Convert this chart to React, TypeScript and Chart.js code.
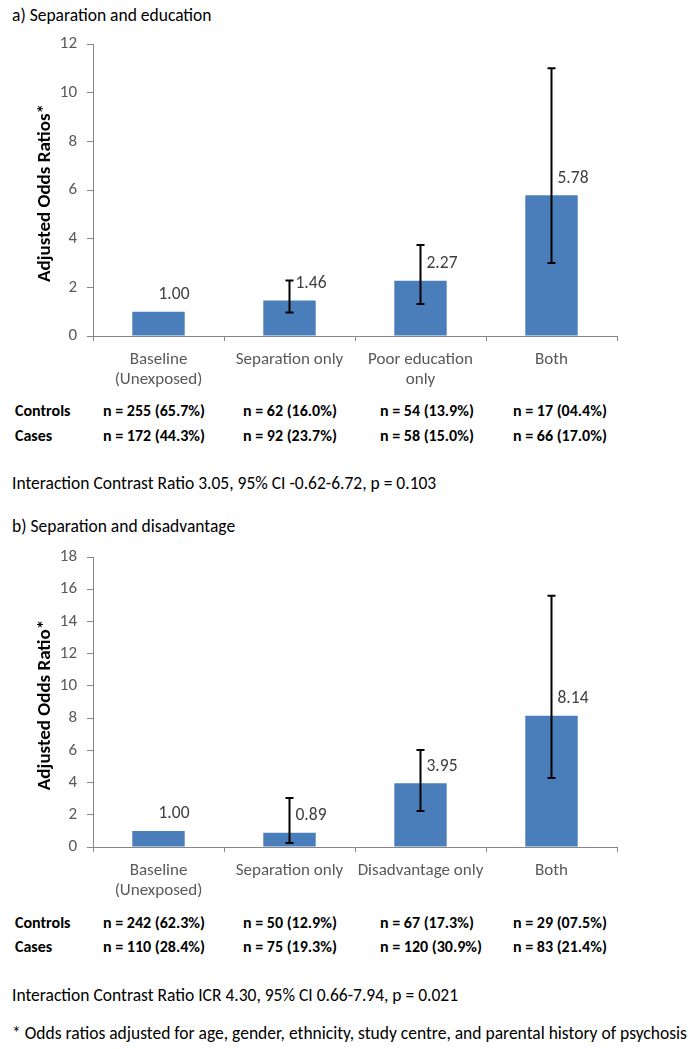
import React, { useEffect, useRef } from 'react';
import { Chart, registerables } from 'chart.js';

Chart.register(...registerables);

const FONT = 'Carlito, Calibri, Lato, "Open Sans", sans-serif';

// ---- Panel a: Separation and education ----
const categoriesA: (string | string[])[] = [['Baseline', '(Unexposed)'], 'Separation only', ['Poor education', 'only'], 'Both'];
const oddsA = [1.0, 1.46, 2.27, 5.78];
const ciLowA: (number | null)[] = [null, 0.97, 1.31, 3.0];
const ciHighA: (number | null)[] = [null, 2.28, 3.74, 11.0];
const yMaxA = 12;
const controlsA = ['n = 255 (65.7%)', 'n = 62 (16.0%)', 'n = 54 (13.9%)', 'n = 17 (04.4%)'];
const casesA = ['n = 172 (44.3%)', 'n = 92 (23.7%)', 'n = 58 (15.0%)', 'n = 66 (17.0%)'];

// ---- Panel b: Separation and disadvantage ----
const categoriesB: (string | string[])[] = [['Baseline', '(Unexposed)'], 'Separation only', 'Disadvantage only', 'Both'];
const oddsB = [1.0, 0.89, 3.95, 8.14];
const ciLowB: (number | null)[] = [null, 0.25, 2.24, 4.29];
const ciHighB: (number | null)[] = [null, 3.04, 6.02, 15.6];
const yMaxB = 18;
const controlsB = ['n = 242 (62.3%)', 'n = 50 (12.9%)', 'n = 67 (17.3%)', 'n = 29 (07.5%)'];
const casesB = ['n = 110 (28.4%)', 'n = 75 (19.3%)', 'n = 120 (30.9%)', 'n = 83 (21.4%)'];

const annotPlugin = {
  id: 'annot',
  afterDatasetsDraw(chart: any, _args: any, opts: any) {
    const ctx = chart.ctx;
    const meta = chart.getDatasetMeta(0);
    const ys = chart.scales.y;
    const data = chart.data.datasets[0].data as number[];
    meta.data.forEach((bar: any, i: number) => {
      const lo = opts.low[i];
      const hi = opts.high[i];
      const x = bar.x;
      const hasErr = lo != null && hi != null;
      if (hasErr) {
        const yl = ys.getPixelForValue(lo);
        const yh = ys.getPixelForValue(hi);
        ctx.save();
        ctx.strokeStyle = '#000';
        ctx.lineWidth = 2;
        ctx.beginPath();
        ctx.moveTo(x, yl);
        ctx.lineTo(x, yh);
        ctx.moveTo(x - 4, yl);
        ctx.lineTo(x + 4, yl);
        ctx.moveTo(x - 4, yh);
        ctx.lineTo(x + 4, yh);
        ctx.stroke();
        ctx.restore();
      }
      ctx.save();
      ctx.fillStyle = '#404040';
      ctx.font = `17.5px ${FONT}`;
      ctx.textAlign = 'left';
      ctx.textBaseline = 'middle';
      ctx.fillText(data[i].toFixed(2), x + (hasErr ? 6 : 0), bar.y - 17);
      ctx.restore();
    });
    const ca = chart.chartArea;
    ctx.save();
    ctx.translate(45, (ca.top + ca.bottom) / 2 + 3);
    ctx.rotate(-Math.PI / 2);
    ctx.font = `bold 19px ${FONT}`;
    ctx.fillStyle = '#000';
    ctx.textAlign = 'center';
    ctx.textBaseline = 'middle';
    ctx.fillText(opts.title, 0, 0);
    ctx.restore();
  },
};

type PanelProps = {
  top: number;
  labels: (string | string[])[];
  values: number[];
  low: (number | null)[];
  high: (number | null)[];
  yMax: number;
  yTitle: string;
  padTop: number;
  xHeight: number;
  height: number;
};

function Panel(p: PanelProps) {
  const ref = useRef<HTMLCanvasElement>(null);
  useEffect(() => {
    if (!ref.current) return;
    const chart = new Chart(ref.current, {
      type: 'bar',
      data: {
        labels: p.labels as any,
        datasets: [
          {
            data: p.values,
            backgroundColor: '#4a7ebb',
            barPercentage: 0.4,
            categoryPercentage: 1,
          },
        ],
      },
      options: {
        responsive: false,
        animation: false,
        layout: { padding: { top: p.padTop, right: 78, left: 0, bottom: 0 } },
        plugins: {
          legend: { display: false },
          tooltip: { enabled: false },
          annot: { low: p.low, high: p.high, title: p.yTitle },
        } as any,
        scales: {
          x: {
            grid: { display: true, drawOnChartArea: false, offset: true, tickLength: 5, color: '#868686' },
            border: { color: '#868686' },
            ticks: {
              font: { family: FONT, size: 17, lineHeight: 1.15 },
              color: '#595959',
              padding: 9,
              maxRotation: 0,
              autoSkip: false,
            },
            afterFit: (s: any) => {
              s.height = p.xHeight;
            },
          },
          y: {
            min: 0,
            max: p.yMax,
            ticks: { stepSize: 2, font: { family: FONT, size: 17 }, color: '#595959', padding: 10 },
            grid: { drawOnChartArea: false, tickLength: 6, color: '#868686' },
            border: { color: '#868686' },
            afterFit: (s: any) => {
              s.width = 93;
            },
          },
        },
      },
      plugins: [annotPlugin as any],
    });
    return () => chart.destroy();
  }, []);
  return (
    <canvas
      ref={ref}
      width={695}
      height={p.height}
      style={{ position: 'absolute', left: 0, top: p.top, width: 695, height: p.height }}
    />
  );
}

function T(props: { x: number; y: number; size: number; bold?: boolean; children: React.ReactNode }) {
  const lh = Math.round(props.size * 1.25);
  return (
    <div
      style={{
        position: 'absolute',
        left: props.x,
        top: props.y - lh / 2,
        fontSize: props.size,
        lineHeight: `${lh}px`,
        fontWeight: props.bold ? 700 : 400,
        fontFamily: FONT,
        color: '#000',
        whiteSpace: 'nowrap',
      }}
    >
      {props.children}
    </div>
  );
}

const colX = [103, 243, 380, 513];

function Table(props: { y1: number; y2: number; controls: string[]; cases: string[] }) {
  return (
    <>
      <T x={15} y={props.y1} size={16} bold>
        Controls
      </T>
      <T x={15} y={props.y2} size={16} bold>
        Cases
      </T>
      {props.controls.map((s, i) => (
        <T key={'c' + i} x={colX[i]} y={props.y1} size={16} bold>
          {s}
        </T>
      ))}
      {props.cases.map((s, i) => (
        <T key={'k' + i} x={colX[i]} y={props.y2} size={16} bold>
          {s}
        </T>
      ))}
    </>
  );
}

export default function App() {
  return (
    <div style={{ position: 'absolute', left: 0, top: 0, width: 695, height: 1049, background: '#fff', overflow: 'hidden' }}>
      <T x={12} y={15} size={17.5}>
        a) Separation and education
      </T>
      <Panel
        top={0}
        labels={categoriesA}
        values={oddsA}
        low={ciLowA}
        high={ciHighA}
        yMax={yMaxA}
        yTitle="Adjusted Odds Ratios*"
        padTop={44}
        xHeight={64}
        height={400}
      />
      <Table y1={411} y2={436} controls={controlsA} cases={casesA} />
      <T x={12} y={483} size={17.5}>
        Interaction Contrast Ratio 3.05, 95% CI -0.62-6.72, p = 0.103
      </T>
      <T x={12} y={526} size={17.5}>
        b) Separation and disadvantage
      </T>
      <Panel
        top={513}
        labels={categoriesB}
        values={oddsB}
        low={ciLowB}
        high={ciHighB}
        yMax={yMaxB}
        yTitle="Adjusted Odds Ratio*"
        padTop={44}
        xHeight={66}
        height={400}
      />
      <Table y1={923} y2={947} controls={controlsB} cases={casesB} />
      <T x={12} y={995} size={17.5}>
        Interaction Contrast Ratio ICR 4.30, 95% CI 0.66-7.94, p = 0.021
      </T>
      <T x={12} y={1033} size={17.5}>
        * Odds ratios adjusted for age, gender, ethnicity, study centre, and parental history of psychosis
      </T>
    </div>
  );
}
